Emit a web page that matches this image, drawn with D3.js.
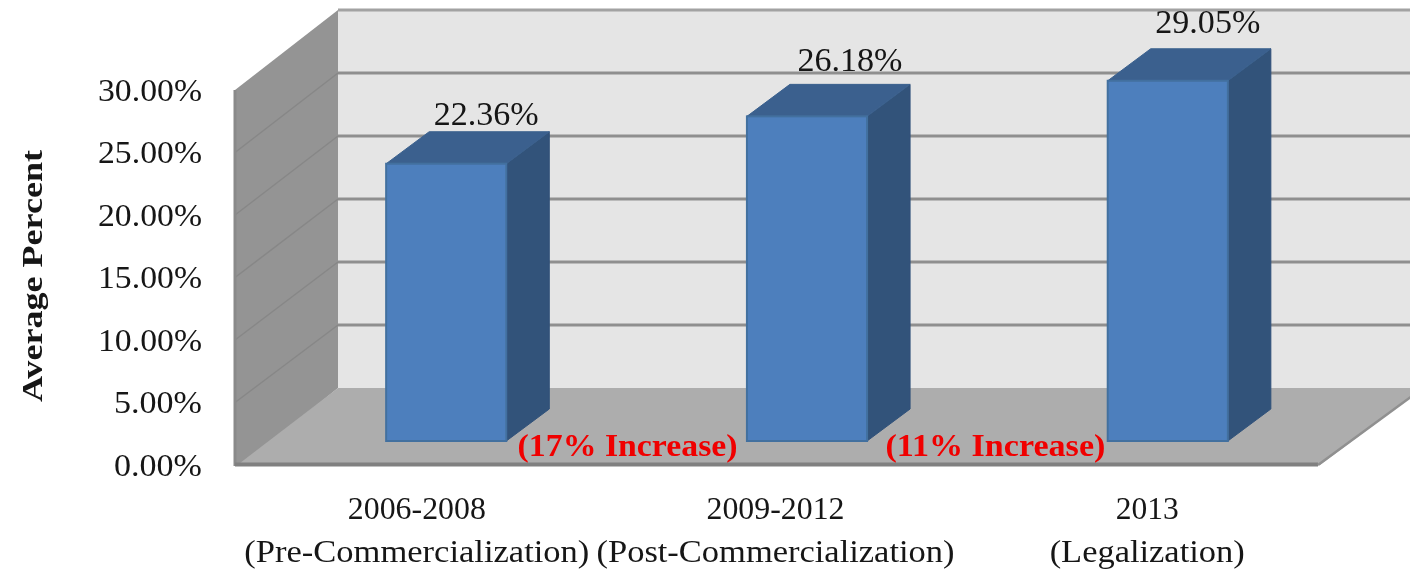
<!DOCTYPE html>
<html><head><meta charset="utf-8">
<script src="https://cdn.jsdelivr.net/npm/d3@7"></script>
<style>
html,body{margin:0;padding:0;background:#fff}
svg{display:block}
text{font-family:"Liberation Serif",serif;fill:#141414}
</style></head><body>
<svg id="c" width="1410" height="570"></svg>
<script>
const categories = ["2006-2008","2009-2012","2013"];
const subLabels = ["(Pre-Commercialization)","(Post-Commercialization)","(Legalization)"];
const values = [22.36,26.18,29.05];
const valueLabels = ["22.36%","26.18%","29.05%"];
const yTicks = [0,5,10,15,20,25,30];
const notes = ["(17% Increase)","(11% Increase)"];

const W=1410,H=570;
const svg=d3.select("#c");
const defs=svg.append("defs");
defs.append("filter").attr("id","soft").attr("x",0).attr("y",0).attr("width",1).attr("height",1)
  .attr("filterUnits","userSpaceOnUse").attr("x",0).attr("y",0).attr("width",W).attr("height",H)
  .append("feGaussianBlur").attr("stdDeviation",0.7);
const g=svg.append("g").attr("filter","url(#soft)");

const yFront=d3.scaleLinear().domain([0,30]).range([465,90]);
const yBack =d3.scaleLinear().domain([0,30]).range([388,10]);
const yBar  =d3.scaleLinear().domain([0,30]).range([441,69]);
const xBar  =d3.scaleBand().domain(categories).range([266,1348]).paddingInner(0.667).paddingOuter(0.333);
const xLab  =d3.scaleBand().domain(categories).range([235,1320]);
const xFrontL=235,xBackL=338,xFrontR=1320,xBackR=1423,depthX=43,depthY=32;
const labelNudge=[1,-2,8];
const pts=a=>a.map(p=>p.join(",")).join(" ");
const fit=(sel,lens)=>sel.attr("textLength",(d,i)=>lens[i]).attr("lengthAdjust","spacingAndGlyphs");

// walls
g.append("polygon").attr("points",pts([[xBackL,yBack(30)],[W,yBack(30)],[W,yBack(0)],[xBackL,yBack(0)]])).attr("fill","#e5e5e5");
g.append("polygon").attr("points",pts([[xFrontL,yFront(30)],[xBackL,yBack(30)],[xBackL,yBack(0)],[xFrontL+8,yFront(0)],[xFrontL,yFront(0)]])).attr("fill","#949494");
g.append("polygon").attr("points",pts([[xFrontL+5,yFront(0)-2],[xBackL,yBack(0)],[xBackR,yBack(0)],[xFrontR,yFront(0)]])).attr("fill","#adadad");

// gridlines
g.selectAll("line.back").data(yTicks.slice(1)).join("line").attr("class","back")
 .attr("x1",xBackL).attr("x2",W).attr("y1",d=>yBack(d)).attr("y2",d=>yBack(d))
 .attr("stroke",d=>d===30?"#a2a2a2":"#8f8f8f").attr("stroke-width",3);
g.selectAll("line.side").data(yTicks.slice(1,-1)).join("line").attr("class","side")
 .attr("x1",xFrontL).attr("x2",xBackL).attr("y1",d=>yFront(d)).attr("y2",d=>yBack(d))
 .attr("stroke","#878787").attr("stroke-width",1.5);
// frame edges
g.append("line").attr("x1",xFrontL).attr("x2",xFrontL).attr("y1",yFront(30)).attr("y2",yFront(0)+1).attr("stroke","#8a8a8a").attr("stroke-width",3);
g.append("line").attr("x1",xFrontL).attr("x2",xFrontR-2).attr("y1",yFront(0)-.5).attr("y2",yFront(0)-.5).attr("stroke","#808080").attr("stroke-width",4);
g.append("line").attr("x1",xFrontR-2).attr("x2",xBackR).attr("y1",yFront(0)).attr("y2",yBack(0)).attr("stroke","#909090").attr("stroke-width",2.5);

// bars
const bars=g.selectAll("g.bar").data(values).join("g").attr("class","bar");
const bx=i=>xBar(categories[i]), bw=xBar.bandwidth();
bars.append("polygon").attr("fill","#31527a").attr("stroke","#31527a")
 .attr("points",(d,i)=>pts([[bx(i)+bw,yBar(d)],[bx(i)+bw+depthX,yBar(d)-depthY],[bx(i)+bw+depthX,yBar(0)-depthY],[bx(i)+bw,yBar(0)]]));
bars.append("polygon").attr("fill","#3b618e").attr("stroke","#3b618e")
 .attr("points",(d,i)=>pts([[bx(i),yBar(d)],[bx(i)+depthX,yBar(d)-depthY],[bx(i)+bw+depthX,yBar(d)-depthY],[bx(i)+bw,yBar(d)]]));
bars.append("rect").attr("fill","#4e7fbd").attr("stroke","#43709f").attr("stroke-width",2)
 .attr("x",(d,i)=>bx(i)).attr("y",d=>yBar(d)).attr("width",bw).attr("height",d=>yBar(0)-yBar(d));

// y axis
const axis=g.append("g").attr("transform","translate(202,0)")
 .call(d3.axisLeft(yFront).tickValues(yTicks).tickSize(0).tickPadding(0).tickFormat(d=>d3.format(".2f")(d)+"%"));
axis.select(".domain").remove();
axis.selectAll("text").style("font-size","32px").style("font-family",'"Liberation Serif",serif').style("fill","#141414")
 .attr("textLength",d=>d>=10?104:88).attr("lengthAdjust","spacingAndGlyphs");

// axis title
g.append("text").attr("transform","translate(42,276) rotate(-90)").attr("text-anchor","middle")
 .attr("font-size",30).attr("font-weight","bold").attr("textLength",252).attr("lengthAdjust","spacingAndGlyphs").text("Average Percent");

// value labels
const labDx=[40,43,40],labDy=[7,13,16];
g.selectAll("text.val").data(valueLabels).join("text").attr("class","val").attr("text-anchor","middle")
 .attr("font-size",33).attr("textLength",105).attr("lengthAdjust","spacingAndGlyphs")
 .attr("x",(d,i)=>bx(i)+bw/2+labDx[i]).attr("y",(d,i)=>yBar(values[i])-depthY-labDy[i]).text(d=>d);

// category labels
fit(g.selectAll("text.cat").data(categories).join("text").attr("class","cat").attr("text-anchor","middle")
 .attr("font-size",31)
 .attr("x",(d,i)=>xLab(d)+xLab.bandwidth()/2+labelNudge[i]).attr("y",519).text(d=>d),[138,138,63]);
fit(g.selectAll("text.sub").data(subLabels).join("text").attr("class","sub").attr("text-anchor","middle")
 .attr("font-size",32)
 .attr("x",(d,i)=>xLab(categories[i])+xLab.bandwidth()/2+labelNudge[i]).attr("y",562).text(d=>d),[345,358,195]);

// increase notes
const noteDx=[1,8];
fit(g.selectAll("text.note").data(notes).join("text").attr("class","note").attr("text-anchor","middle")
 .attr("font-size",31).attr("font-weight","bold").style("fill","#f00000")
 .attr("x",(d,i)=>(bx(i)+bw+bx(i+1))/2+noteDx[i]).attr("y",456).text(d=>d),[220,220]);
</script>
</body></html>
